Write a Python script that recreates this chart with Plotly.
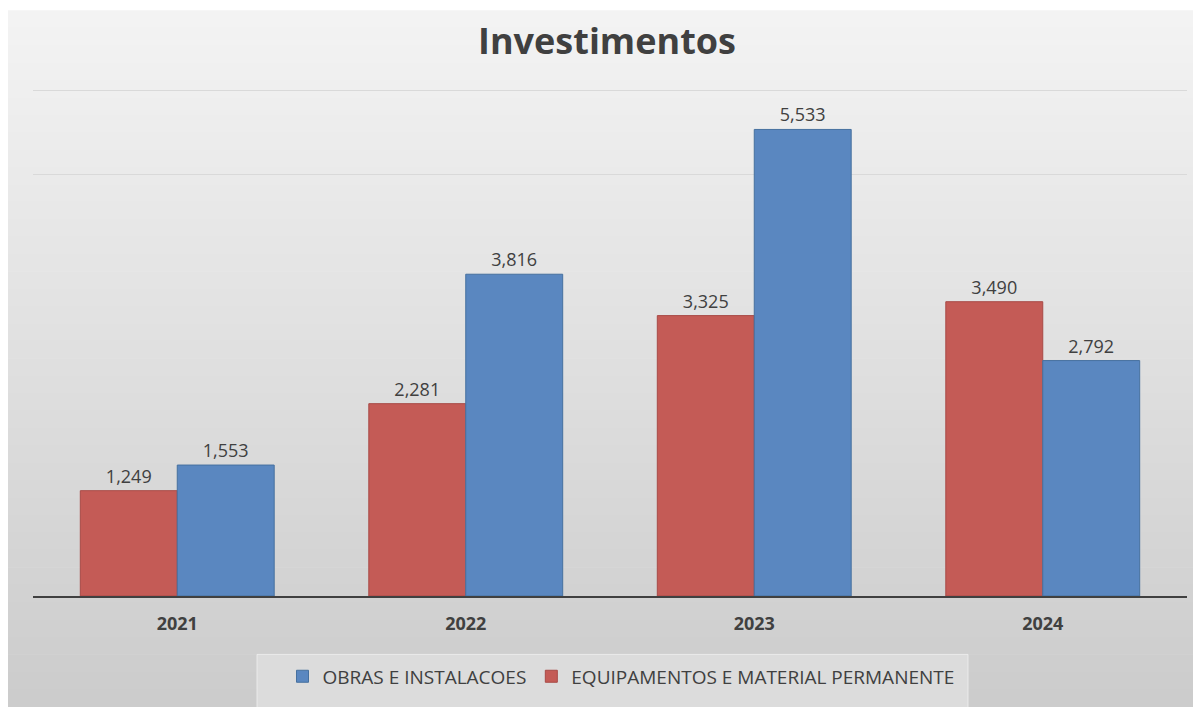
import plotly.graph_objects as go

years = ["2021", "2022", "2023", "2024"]
equipamentos = [1249, 2281, 3325, 3490]
obras = [1553, 3816, 5533, 2792]
labels_equip = ["1,249", "2,281", "3,325", "3,490"]
labels_obras = ["1,553", "3,816", "5,533", "2,792"]

OFF = 8  # page body margin
YMAX = 6060
W, H = 1201 - OFF, 707 - OFF
B = 596.5 - OFF
T = B - 506.5 * YMAX / 6000
L, R = 33 - OFF, 1187 - OFF

def px_x(p):  # p in reference page pixels
    return (p - OFF - L) / (R - L)

def px_y(p):
    return (B - (p - OFF)) / (B - T)

TXT = "#404040"
FONT = "Open Sans"

fig = go.Figure()
fig.add_trace(go.Bar(
    x=years, y=equipamentos, name="EQUIPAMENTOS E MATERIAL PERMANENTE",
    marker=dict(color="#C45B56", line=dict(color="#A84A46", width=1)),
    text=labels_equip, textposition="outside", cliponaxis=False,
    textfont=dict(family=FONT, size=18, color=TXT),
))
fig.add_trace(go.Bar(
    x=years, y=obras, name="OBRAS E INSTALACOES",
    marker=dict(color="#5A87C0", line=dict(color="#46709F", width=1)),
    text=labels_obras, textposition="outside", cliponaxis=False,
    textfont=dict(family=FONT, size=18, color=TXT),
))

# background vertical gradient
shapes = []
n = 40
top, bot = 10, 707
c0, c1 = 244, 203
for i in range(n):
    y0p = top + (bot - top) * i / n
    y1p = top + (bot - top) * (i + 1) / n + 0.6
    c = round(c0 + (c1 - c0) * (i + 0.5) / n)
    shapes.append(dict(type="rect", xref="paper", yref="paper", layer="below",
                       x0=px_x(OFF), x1=px_x(1205), y0=px_y(y1p), y1=px_y(y0p),
                       line=dict(width=0), fillcolor=f"rgb({c},{c},{c})"))
# legend box
shapes.append(dict(type="rect", xref="paper", yref="paper", layer="below",
                   x0=px_x(257), x1=px_x(968), y0=px_y(712), y1=px_y(655),
                   line=dict(width=1, color="rgba(240,240,240,0.8)"),
                   fillcolor="rgb(220,220,220)"))

fig.update_layout(
    width=W, height=H,
    margin=dict(l=L, r=W - R, t=T, b=H - B, pad=0),
    paper_bgcolor="white",
    plot_bgcolor="rgba(0,0,0,0)",
    shapes=shapes,
    barmode="group", bargap=0.328, bargroupgap=0,
    title=dict(text="<b>Investimentos</b>", x=px_x(607), xanchor="center",
               xref="paper",
               y=1 - (41 - OFF) / H, yanchor="middle", yref="container",
               font=dict(family=FONT, size=36, color=TXT)),
    showlegend=True,
    legend=dict(orientation="h", traceorder="reversed",
                x=px_x(621), xanchor="center", y=px_y(677), yanchor="middle",
                bgcolor="rgba(0,0,0,0)",
                font=dict(family=FONT, size=19, color=TXT)),
    xaxis=dict(showline=True, linecolor="#404040", linewidth=2,
               showgrid=False, ticks="", ticklabelstandoff=10,
               tickfont=dict(family=FONT, size=18, color=TXT, weight="bold")),
    yaxis=dict(range=[0, YMAX], tickvals=[5000, 6000], showgrid=True,
               gridcolor="#d9d9d9", gridwidth=1, zeroline=False,
               showticklabels=False, showline=False),
)

fig.write_html("out.html")
